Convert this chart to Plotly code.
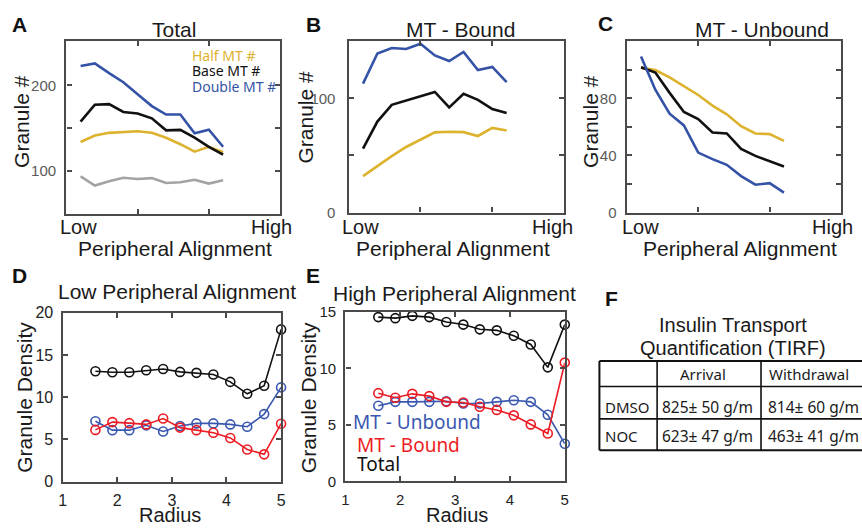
import plotly.graph_objects as go

W, H = 862, 531

# ---------------- data ----------------
align_x = [0.2, 0.4, 0.6, 0.8, 1.0, 1.2, 1.4, 1.6, 1.8, 2.0, 2.2]

total_half = [133.9, 141.5, 144.6, 145.7, 146.4, 144.6, 138.9, 131.3, 122.6, 128.3, 122.0]
total_base = [157.7, 177.4, 178.1, 169.0, 167.2, 161.5, 147.5, 148.0, 138.9, 128.3, 119.2]
total_double = [222.6, 225.6, 214.3, 203.7, 189.8, 175.8, 166.0, 166.0, 144.1, 148.3, 128.3]
total_gray = [93.7, 83.0, 88.0, 92.1, 90.6, 91.7, 86.0, 86.8, 89.8, 85.3, 89.1]

bound_half = [31.9, 40.9, 49.4, 57.4, 63.9, 70.2, 70.7, 70.4, 67.0, 74.1, 71.9]
bound_base = [56.0, 79.6, 94.3, 98.0, 101.4, 105.6, 92.0, 103.9, 98.6, 90.6, 87.2]
bound_double = [112.8, 139.2, 144.0, 143.1, 147.7, 137.5, 132.6, 140.5, 124.7, 127.5, 114.1]

unbound_half = [101.3, 99.8, 94.6, 88.5, 82.3, 74.9, 68.8, 60.5, 55.4, 54.9, 50.2]
unbound_base = [101.8, 98.0, 83.8, 70.4, 65.5, 56.1, 55.4, 44.6, 39.7, 35.9, 32.3]
unbound_double = [109.2, 86.0, 69.2, 61.0, 42.0, 37.4, 33.4, 25.5, 19.5, 20.6, 13.9]

radius = [1.60, 1.91, 2.22, 2.53, 2.84, 3.15, 3.45, 3.76, 4.07, 4.38, 4.69, 5.00]

low_total = [13.07, 12.95, 12.95, 13.18, 13.33, 12.99, 12.88, 12.69, 11.81, 10.40, 11.35, 18.02]
low_unbound = [7.16, 6.10, 6.10, 6.67, 5.94, 6.59, 6.90, 6.90, 6.78, 6.51, 8.00, 11.16]
low_bound = [6.13, 7.05, 6.93, 6.78, 7.47, 6.40, 6.10, 5.79, 5.18, 3.81, 3.24, 6.86]

high_total = [14.52, 14.43, 14.63, 14.52, 14.09, 13.86, 13.44, 13.35, 12.87, 12.10, 10.08, 13.86]
high_unbound = [6.69, 7.03, 7.03, 7.03, 7.09, 6.89, 6.89, 7.03, 7.17, 7.03, 5.89, 3.33]
high_bound = [7.80, 7.40, 7.74, 7.54, 7.03, 6.97, 6.60, 6.32, 5.84, 5.04, 4.24, 10.50]

table_rows = ["DMSO", "NOC"]
table_cols = ["Arrival", "Withdrawal"]
table_mean = [[825, 814], [623, 463]]
table_sem = [[50, 60], [47, 41]]

# ---------------- styles ----------------
HEL = "Liberation Sans, Arial, sans-serif"
MYR = "Noto Sans, sans-serif"
BLUE = "#3453a6"
YEL = "#dcb22e"
GRAY = "#a3a3a3"
BLK = "#111111"
BLUE2 = "#3a58b0"
RED = "#ec1c24"
AXC = "#4a4a4a"


def px(x):
    return x / W


def py(y):
    return 1 - y / H


fig = go.Figure()

# panel A
for ys, c in [(total_gray, GRAY), (total_half, YEL), (total_base, BLK), (total_double, BLUE)]:
    fig.add_trace(go.Scatter(x=align_x, y=ys, mode="lines", line=dict(color=c, width=2.6),
                             xaxis="x", yaxis="y", showlegend=False))
# panel B
for ys, c in [(bound_half, YEL), (bound_base, BLK), (bound_double, BLUE)]:
    fig.add_trace(go.Scatter(x=align_x, y=ys, mode="lines", line=dict(color=c, width=2.6),
                             xaxis="x2", yaxis="y2", showlegend=False))
# panel C
for ys, c in [(unbound_half, YEL), (unbound_base, BLK), (unbound_double, BLUE)]:
    fig.add_trace(go.Scatter(x=align_x, y=ys, mode="lines", line=dict(color=c, width=2.6),
                             xaxis="x3", yaxis="y3", showlegend=False))
# panel D
for ys, c in [(low_total, BLK), (low_unbound, BLUE2), (low_bound, RED)]:
    fig.add_trace(go.Scatter(x=radius, y=ys, mode="lines+markers", cliponaxis=False,
                             line=dict(color=c, width=1.6),
                             marker=dict(symbol="circle-open", size=9, color=c, line=dict(width=1.6, color=c)),
                             xaxis="x4", yaxis="y4", showlegend=False))
# panel E
for ys, c in [(high_total, BLK), (high_unbound, BLUE2), (high_bound, RED)]:
    fig.add_trace(go.Scatter(x=radius, y=ys, mode="lines+markers", cliponaxis=False,
                             line=dict(color=c, width=1.6),
                             marker=dict(symbol="circle-open", size=9, color=c, line=dict(width=1.6, color=c)),
                             xaxis="x5", yaxis="y5", showlegend=False))


def axis(domain, rng, tickvals, ticktext=None, fsize=15, fcolor="#5a5a5a", standoff=4, anchor=None):
    d = dict(domain=domain, range=rng, tickvals=tickvals, showline=True, linecolor=AXC, linewidth=2.4,
             mirror="ticks", ticks="inside", ticklen=5, tickwidth=1.5, tickcolor=AXC,
             showgrid=False, zeroline=False, fixedrange=True,
             tickfont=dict(family=HEL, size=fsize, color=fcolor), ticklabelstandoff=standoff,
             anchor=anchor)
    if ticktext is not None:
        d["ticktext"] = ticktext
    return d


blank4 = ["", "", "", ""]
fig.update_layout(
    xaxis=axis([px(63), px(279)], [0, 3], [0, 1, 2, 3], blank4, anchor="y"),
    yaxis=axis([py(212), py(33)], [50, 252], [100, 150, 200], ["100", "", "200"], standoff=5, anchor="x"),
    xaxis2=axis([px(348.3), px(566)], [0, 3], [0, 1, 2, 3], blank4, anchor="y2"),
    yaxis2=axis([py(210.7), py(33.3)], [0, 150], [0, 50, 100, 150], ["0", "", "100", ""], standoff=8, anchor="x2"),
    xaxis3=axis([px(629.3), px(846)], [0, 3], [0, 1, 2, 3], blank4, anchor="y3"),
    yaxis3=axis([py(210.7), py(33.3)], [0, 120], [0, 20, 40, 60, 80, 100, 120],
                ["0", "", "40", "", "80", "", ""], standoff=5, anchor="x3"),
    xaxis4=axis([px(59.3), px(280)], [1, 5], [1, 2, 3, 4, 5], fsize=16, fcolor="#222222", standoff=3, anchor="y4"),
    yaxis4=axis([py(489.3), py(314.3)], [0, 20], [0, 5, 10, 15, 20], fsize=16, fcolor="#222222", standoff=4, anchor="x4"),
    xaxis5=axis([px(345), px(566.7)], [1, 5], [1, 2, 3, 4, 5], fsize=15, fcolor="#222222", standoff=3, anchor="y5"),
    yaxis5=axis([py(489), py(313.3)], [0, 15], [0, 5, 10, 15], fsize=15, fcolor="#222222", standoff=4, anchor="x5"),
)

ann = []


def text(x, y, s, size=21, color="#1a1a1a", family=HEL, xanchor="center", yanchor="middle", angle=0, bold=False):
    if bold:
        s = "<b>" + s + "</b>"
    ann.append(dict(x=px(x), y=py(y), xref="paper", yref="paper", text=s, showarrow=False,
                    xanchor=xanchor, yanchor=yanchor, textangle=angle, borderpad=0,
                    font=dict(family=family, size=size, color=color)))


# panel labels
for lab, x, y in [("A", 16, 16), ("B", 313, 16), ("C", 608, 15), ("D", 16, 276), ("E", 312, 276), ("F", 614, 300)]:
    text(x, y, lab, size=21, color="#111111", bold=True)

# titles
text(172, 21, "Total")
text(461, 21, "MT - Bound")
text(766, 21, "MT - Unbound")
text(175, 292.5, "Low Peripheral Alignment")
text(455, 294, "High Peripheral Alignment")

# y titles
for x, y, s in [(17, 116, "Granule #"), (304.5, 112, "Granule #"), (592, 116, "Granule #"),
                (20.7, 402, "Granule Density"), (308, 402, "Granule Density")]:
    text(x, y, s, angle=-90)

# x titles
for x, s in [(172.5, "Peripheral Alignment"), (454, "Peripheral Alignment"), (744, "Peripheral Alignment")]:
    text(x, 248, s)
text(168, 536, "Radius", size=20, yanchor="bottom")
text(458, 536, "Radius", size=20, yanchor="bottom")

# Low / High labels
for x, s in [(75, "Low"), (270, "High"), (360, "Low"), (554, "High"), (643, "Low"), (837, "High")]:
    text(x, 226, s, size=20)

# panel A legend
for s, c, y in [("Half MT #", YEL, 48), ("Base MT #", BLK, 64), ("Double MT #", BLUE, 80)]:
    text(189, y, s, size=14, color=c, family=MYR, xanchor="left")

# panel E legend
for s, c, x, y in [("MT - Unbound", BLUE2, 352, 428), ("MT - Bound", RED, 356, 451), ("Total", BLK, 356, 471)]:
    text(x, y, s, size=19, color=c, family=MYR, xanchor="left")

# panel F table
text(737, 327, "Insulin Transport", size=20)
text(737, 351, "Quantification (TIRF)", size=20)

shapes = []
ys_lines = [364.3, 390.7, 424.3, 456.7]
for i, yl in enumerate(ys_lines):
    shapes.append(dict(type="line", xref="paper", yref="paper", x0=px(601.7), x1=px(880),
                       y0=py(yl), y1=py(yl), line=dict(color="#111111", width=2 if i in (0, 3) else 1.6)))
for xl in [601.7, 660, 765]:
    shapes.append(dict(type="line", xref="paper", yref="paper", x0=px(xl), x1=px(xl),
                       y0=py(364.3), y1=py(456.7), line=dict(color="#111111", width=2 if xl == 601.7 else 1.6)))

header_x = [682, 772]
for s, x in zip(table_cols, header_x):
    text(x, 378, s, size=15, family=MYR, xanchor="left")
row_y = [411.5, 441.5]
for r, (lab, yv) in enumerate(zip(table_rows, row_y)):
    text(606, yv, lab, size=15, family=MYR, xanchor="left")
    for cidx, x in enumerate([664, 771.5]):
        s = f"{table_mean[r][cidx]}± {table_sem[r][cidx]} g/m"
        text(x, yv, s, size=15.5, family=MYR, xanchor="left")

fig.update_layout(width=W, height=H, autosize=False, margin=dict(l=0, r=0, t=0, b=0),
                  paper_bgcolor="white", plot_bgcolor="white", annotations=ann, shapes=shapes,
                  showlegend=False)

fig.write_html("out.html", config={"displayModeBar": False})
